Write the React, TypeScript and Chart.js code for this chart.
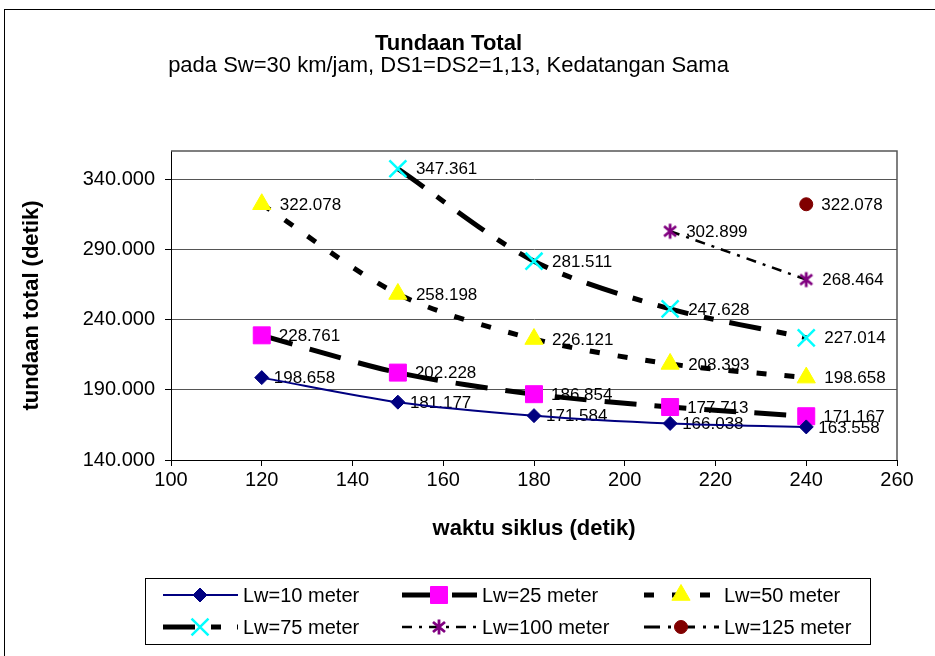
import React, { useEffect, useRef } from 'react';
import { Chart, registerables } from 'chart.js';
import { drawPoint } from 'chart.js/helpers';

Chart.register(...registerables);

const FONT = "'Liberation Sans', Arial, Helvetica, sans-serif";

// ---- data ----
const titleText = 'Tundaan Total';
const subtitleText = 'pada Sw=30 km/jam, DS1=DS2=1,13, Kedatangan Sama';
const xAxisTitle = 'waktu siklus (detik)';
const yAxisTitle = 'tundaan total (detik)';

const cycleTimes = [120, 150, 180, 210, 240];
const lw10 = [198.658, 181.177, 171.584, 166.038, 163.558];
const lw25 = [228.761, 202.228, 186.854, 177.713, 171.167];
const lw50 = [322.078, 258.198, 226.121, 208.393, 198.658];
const lw75 = [null, 347.361, 281.511, 247.628, 227.014];
const lw100 = [null, null, null, 302.899, 268.464];
const lw125 = [null, null, null, null, 322.078];

const seriesNames = ['Lw=10 meter', 'Lw=25 meter', 'Lw=50 meter', 'Lw=75 meter', 'Lw=100 meter', 'Lw=125 meter'];
const seriesValues = [lw10, lw25, lw50, lw75, lw100, lw125];

const yTickValues = [140, 190, 240, 290, 340];
const xMin = 100;
const xMax = 260;
const xStep = 20;
const yMin = 140;
const yMax = 360;

// ---- styles ----
type Sty = {
  line: string; width: number; dash: number[];
  marker: any; radius: number; fill: string; stroke: string; mw: number; labelOff: number;
  legendDash: number[];
};

function makeAsterisk(): HTMLCanvasElement {
  const c = document.createElement('canvas');
  c.width = 18; c.height = 18;
  const g = c.getContext('2d')!;
  g.strokeStyle = '#800080';
  g.lineWidth = 2.8;
  g.beginPath();
  g.moveTo(9, 1.5); g.lineTo(9, 16.5);
  g.moveTo(3, 4); g.lineTo(15, 14);
  g.moveTo(15, 4); g.lineTo(3, 14);
  g.stroke();
  return c;
}

export default function App() {
  const ref = useRef<HTMLCanvasElement | null>(null);

  useEffect(() => {
    const canvas = ref.current;
    if (!canvas) return;
    const asterisk = makeAsterisk();

    const styles: Sty[] = [
      { line: '#000080', width: 2, dash: [], marker: 'rectRot', radius: 7, fill: '#000080', stroke: '#000080', mw: 1, labelOff: 12, legendDash: [] },
      { line: '#000000', width: 5, dash: [32, 18], marker: 'rect', radius: 12, fill: '#FF00FF', stroke: '#FF00FF', mw: 1, labelOff: 17, legendDash: [32, 18] },
      { line: '#000000', width: 5, dash: [10, 18], marker: 'triangle', radius: 10.5, fill: '#FFFF00', stroke: '#FFFF00', mw: 1, labelOff: 18, legendDash: [10, 18] },
      { line: '#000000', width: 5, dash: [32, 16, 10, 16], marker: 'crossRot', radius: 12, fill: '#00FFFF', stroke: '#00FFFF', mw: 2.5, labelOff: 18, legendDash: [32, 16, 10, 16] },
      { line: '#000000', width: 2.5, dash: [10, 7, 3, 7], marker: asterisk, radius: 9, fill: '#800080', stroke: '#800080', mw: 2.5, labelOff: 16, legendDash: [10, 7, 3, 7] },
      { line: '#000000', width: 3, dash: [16, 8, 3, 8], marker: 'circle', radius: 6.5, fill: '#800000', stroke: '#800000', mw: 1, labelOff: 15, legendDash: [16, 8, 3, 8] },
    ];

    const datasets = seriesValues.map((vals, i) => {
      const s = styles[i];
      return {
        label: seriesNames[i],
        data: cycleTimes.map((x, j) => ({ x, y: vals[j] })),
        borderColor: s.line,
        borderWidth: s.width,
        borderDash: s.dash,
        borderCapStyle: 'butt',
        tension: 0.3,
        fill: false,
        spanGaps: false,
        pointStyle: s.marker,
        pointRadius: s.radius,
        pointBackgroundColor: s.fill,
        pointBorderColor: s.stroke,
        pointBorderWidth: s.mw,
      };
    });

    const outerPlugin = {
      id: 'outerFrame',
      beforeDraw(chart: any) {
        const ctx = chart.ctx;
        ctx.save();
        ctx.fillStyle = '#ffffff';
        ctx.fillRect(0, 0, chart.width, chart.height);
        ctx.strokeStyle = '#000000';
        ctx.lineWidth = 1;
        ctx.strokeRect(4.5, 9.5, 1000, 1000);
        ctx.restore();
      },
    };

    const plotBorder = {
      id: 'plotBorder',
      beforeDatasetsDraw(chart: any) {
        const { ctx, chartArea } = chart;
        ctx.save();
        ctx.strokeStyle = '#555555';
        ctx.lineWidth = 1.5;
        ctx.beginPath();
        ctx.moveTo(chartArea.left, chartArea.top);
        ctx.lineTo(chartArea.right, chartArea.top);
        ctx.lineTo(chartArea.right, chartArea.bottom);
        ctx.stroke();
        ctx.restore();
      },
    };

    const labelPlugin = {
      id: 'valueLabels',
      beforeDatasetsDraw(chart: any) {
        const ctx = chart.ctx;
        ctx.save();
        ctx.font = `17px ${FONT}`;
        ctx.fillStyle = '#000000';
        ctx.textAlign = 'left';
        ctx.textBaseline = 'middle';
        chart.data.datasets.forEach((ds: any, i: number) => {
          const meta = chart.getDatasetMeta(i);
          meta.data.forEach((pt: any, j: number) => {
            const v = ds.data[j].y;
            if (v == null) return;
            ctx.fillText(v.toFixed(3), pt.x + styles[i].labelOff, pt.y + 1);
          });
        });
        ctx.restore();
      },
    };

    const legendPlugin = {
      id: 'customLegend',
      afterDraw(chart: any) {
        const ctx = chart.ctx;
        ctx.save();
        ctx.strokeStyle = '#000000';
        ctx.lineWidth = 1;
        ctx.strokeRect(145.5, 578.5, 725, 66);
        const cols = [163, 402, 644];
        const rows = [595, 627];
        seriesNames.forEach((name, i) => {
          const s = styles[i];
          const x0 = cols[i % 3];
          const y0 = rows[Math.floor(i / 3)];
          ctx.save();
          ctx.strokeStyle = s.line;
          ctx.lineWidth = s.width;
          ctx.lineCap = 'butt';
          ctx.setLineDash(s.legendDash);
          ctx.beginPath();
          ctx.moveTo(x0, y0);
          ctx.lineTo(x0 + 75, y0);
          ctx.stroke();
          ctx.setLineDash([]);
          ctx.fillStyle = s.fill;
          ctx.strokeStyle = s.stroke;
          ctx.lineWidth = s.mw;
          drawPoint(ctx, { pointStyle: s.marker, radius: s.radius, borderWidth: s.mw, rotation: 0 } as any, x0 + 37, y0);
          ctx.restore();
          ctx.fillStyle = '#000000';
          ctx.font = `20px ${FONT}`;
          ctx.textAlign = 'left';
          ctx.textBaseline = 'middle';
          ctx.fillText(name, x0 + 80, y0 + 1);
        });
        ctx.restore();
      },
    };

    const chart = new Chart(canvas, {
      type: 'line',
      data: { datasets: datasets as any },
      plugins: [outerPlugin, plotBorder, labelPlugin, legendPlugin],
      options: {
        animation: false,
        responsive: false,
        maintainAspectRatio: false,
        devicePixelRatio: 1,
        layout: { padding: { left: 0, right: 38, top: 0, bottom: 108 } },
        plugins: {
          legend: { display: false },
          tooltip: { enabled: false },
          title: {
            display: true,
            text: titleText,
            color: '#000000',
            font: { family: FONT, size: 22, weight: 'bold', lineHeight: 1.0 },
            padding: { top: 33, bottom: 0 },
          },
          subtitle: {
            display: true,
            text: subtitleText,
            color: '#000000',
            font: { family: FONT, size: 22, weight: 'normal', lineHeight: 1.0 },
            padding: { top: 0, bottom: 74 },
          },
        },
        scales: {
          x: {
            type: 'linear',
            min: xMin,
            max: xMax,
            afterFit(scale: any) { scale.height = 88; },
            ticks: {
              stepSize: xStep,
              color: '#000000',
              font: { family: FONT, size: 20 },
              padding: 2,
              maxRotation: 0,
              callback: (v: any) => String(v),
            },
            grid: { display: true, drawOnChartArea: false, drawTicks: true, tickLength: 6, tickColor: '#000000' },
            border: { display: true, color: '#000000', width: 1 },
            title: {
              display: true,
              text: xAxisTitle,
              color: '#000000',
              font: { family: FONT, size: 22, weight: 'bold' },
              padding: { top: 0, bottom: 6 },
            },
          },
          y: {
            type: 'linear',
            min: yMin,
            max: yMax,
            afterFit(scale: any) { scale.width = 171; },
            afterBuildTicks(scale: any) { scale.ticks = yTickValues.map((v) => ({ value: v })); },
            ticks: {
              color: '#000000',
              font: { family: FONT, size: 20 },
              padding: 10,
              callback: (v: any) => Number(v).toFixed(3),
            },
            grid: { display: true, drawOnChartArea: true, drawTicks: true, tickLength: 6, color: '#555555', tickColor: '#000000', lineWidth: 1 },
            border: { display: true, color: '#000000', width: 1 },
            title: {
              display: true,
              text: yAxisTitle,
              color: '#000000',
              font: { family: FONT, size: 22, weight: 'bold' },
              padding: { top: 19, bottom: 0 },
            },
          },
        },
      } as any,
    });
    return () => chart.destroy();
  }, []);

  return (
    <div style={{ position: 'absolute', left: 0, top: 0, width: 935, height: 656, background: '#fff' }}>
      <canvas ref={ref} width={935} height={656} style={{ display: 'block', width: 935, height: 656 }} />
    </div>
  );
}
